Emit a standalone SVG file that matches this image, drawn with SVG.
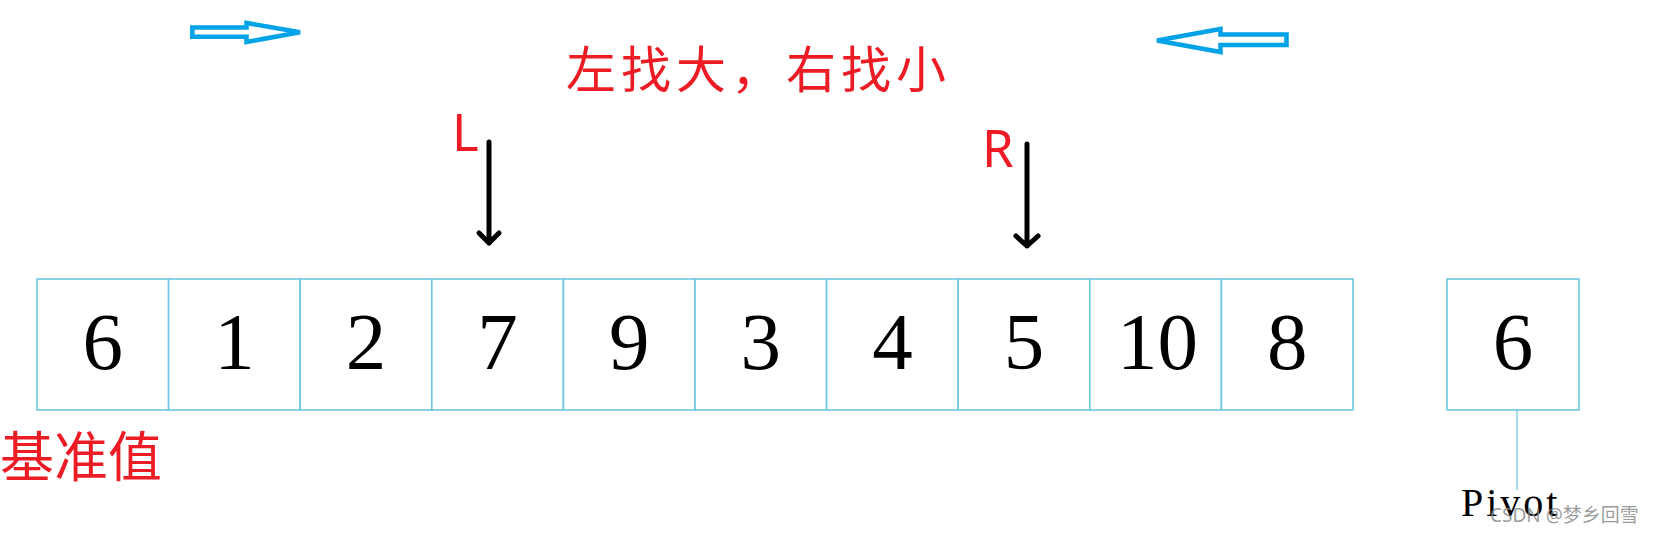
<svg xmlns="http://www.w3.org/2000/svg" width="1657" height="536" viewBox="0 0 1657 536">
<style>
.cell{fill:#ffffff;stroke:#6ec6e0;stroke-width:1.6}
.num{font-family:"Liberation Serif","Times New Roman",serif;font-size:81px;fill:#000;text-anchor:middle}
.red{fill:#ed1c24}
.cjk{font-family:"Noto Sans CJK SC","Noto Sans",sans-serif}
.lat{font-family:"Noto Sans","Liberation Sans",sans-serif;font-size:51px}
.blue{fill:none;stroke:#00a2e8;stroke-width:4.5;stroke-linejoin:miter}
.blk{fill:none;stroke:#000;stroke-width:5;stroke-linecap:round;stroke-linejoin:round}
</style>
<rect width="1657" height="536" fill="#ffffff"/>
<g id="connectors">
<polygon class="blue" points="192.3,27.6 246.5,27.6 246.5,23 300,32.3 246.5,42 246.5,36.7 192.3,36.7"/>
<polygon class="blue" points="1286.5,34.6 1220.5,34.6 1220.5,29 1157,40.5 1220.5,52 1220.5,45 1286.5,45"/>
<path class="blk" d="M489,142 V243 M479,233 L489,243 L499,233"/>
<path class="blk" d="M1027,144 V246 M1016,236 L1027,246 L1038,236"/>
<line x1="1517" y1="410" x2="1517" y2="490" stroke="#7fcde4" stroke-width="1.4"/>
</g>
<g id="title"><text class="cjk red" x="566" y="88" font-size="50" letter-spacing="5">左找大，右找小</text></g>
<g id="labelL"><text class="lat red" x="452" y="151">L</text></g>
<g id="labelR"><text class="lat red" x="982" y="167">R</text></g>
<g id="cell0"><rect class="cell" x="37" y="279" width="131.6" height="131"/><text class="num" x="102.8" y="369">6</text></g>
<g id="cell1"><rect class="cell" x="168.6" y="279" width="131.6" height="131"/><text class="num" x="234.4" y="369">1</text></g>
<g id="cell2"><rect class="cell" x="300.2" y="279" width="131.6" height="131"/><text class="num" x="366" y="369">2</text></g>
<g id="cell3"><rect class="cell" x="431.8" y="279" width="131.6" height="131"/><text class="num" x="497.6" y="369">7</text></g>
<g id="cell4"><rect class="cell" x="563.4" y="279" width="131.6" height="131"/><text class="num" x="629.2" y="369">9</text></g>
<g id="cell5"><rect class="cell" x="695" y="279" width="131.6" height="131"/><text class="num" x="760.8" y="369">3</text></g>
<g id="cell6"><rect class="cell" x="826.6" y="279" width="131.6" height="131"/><text class="num" x="892.4" y="369">4</text></g>
<g id="cell7"><rect class="cell" x="958.2" y="279" width="131.6" height="131"/><text class="num" x="1024" y="369">5</text></g>
<g id="cell8"><rect class="cell" x="1089.8" y="279" width="131.6" height="131"/><text class="num" x="1157.6" y="369">10</text></g>
<g id="cell9"><rect class="cell" x="1221.4" y="279" width="131.6" height="131"/><text class="num" x="1287.2" y="369">8</text></g>
<g id="pivotBox"><rect class="cell" x="1447" y="279" width="132" height="131"/><text class="num" x="1513" y="369">6</text></g>
<g id="baseLabel"><text class="cjk red" x="0" y="477" font-size="54">基准值</text></g>
<g id="pivotLabel"><text x="1461" y="516" font-family="Liberation Serif, Times New Roman, serif" font-size="40" letter-spacing="3" fill="#000">Pivot</text></g>
<g id="watermark"><text x="1490" y="522" font-family="Noto Sans, Noto Sans CJK SC, sans-serif" font-size="19" fill="#8a8a8a" fill-opacity="0.85">CSDN @梦乡回雪</text></g>
</svg>
